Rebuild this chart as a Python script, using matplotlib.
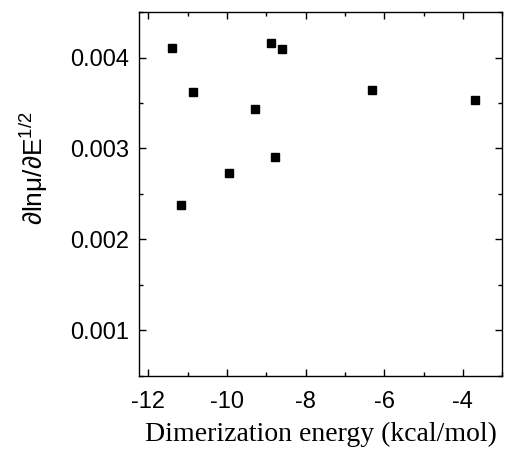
import matplotlib

matplotlib.use("Agg")
import matplotlib.pyplot as plt
from matplotlib.ticker import MultipleLocator

# dimerization energy (kcal/mol) vs d ln(mu) / d E^(1/2)
energy = [-11.40, -10.86, -11.17, -9.94, -9.29, -8.89, -8.61, -8.79, -6.30, -3.70]
slope = [0.004107, 0.003625, 0.002378, 0.002731, 0.003434,
         0.004155, 0.004096, 0.002912, 0.003644, 0.003534]

plt.rcParams.update({
    "font.family": ["Liberation Sans", "DejaVu Sans"],
    "axes.unicode_minus": False,
    "mathtext.fontset": "custom",
    "mathtext.rm": "Liberation Sans",
})

fig = plt.figure(figsize=(5.15, 4.53), dpi=100)
ax = fig.add_axes([0.270, 0.170, 0.705, 0.8035])

ax.plot(energy, slope, ls="none", marker="s", ms=6, color="black")

ax.set_xlim(-12.24, -3.0)
ax.set_ylim(0.0005, 0.0045)
ax.xaxis.set_major_locator(MultipleLocator(2))
ax.xaxis.set_minor_locator(MultipleLocator(1))
ax.yaxis.set_minor_locator(MultipleLocator(0.0005))
ax.set_yticks([0.001, 0.002, 0.003, 0.004])
ax.set_yticklabels(["0.001", "0.002", "0.003", "0.004"])

ax.tick_params(which="both", direction="in", top=True, right=True, width=1)
ax.tick_params(which="major", length=5, labelsize=17)
ax.tick_params(axis="x", which="major", pad=11)
ax.tick_params(axis="y", which="major", pad=7)
ax.tick_params(which="minor", length=3)
for s in ax.spines.values():
    s.set_linewidth(1)

ax.set_xlabel("Dimerization energy (kcal/mol)", family=["Liberation Serif", "DejaVu Serif"],
              fontsize=20)
ax.xaxis.set_label_coords(0.5, -0.125)
ax.set_ylabel("∂lnμ/∂E$^{\\mathrm{1/2}}$", fontsize=19)
ax.yaxis.set_label_coords(-0.245, 0.57)

fig.savefig("out.png", dpi=100)
